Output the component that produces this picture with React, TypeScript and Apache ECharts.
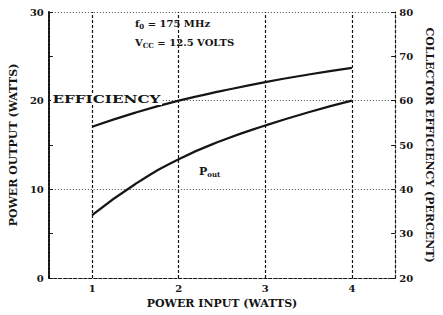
import React, { useEffect, useRef } from "react";
import * as echarts from "echarts";

const inputWatts = [1, 1.5, 2, 2.5, 3, 3.5, 4];
const efficiencyPct = [54.1, 57.3, 60, 62.2, 64.2, 65.9, 67.4];
const outputWatts = [7.1, 10.6, 13.4, 15.5, 17.2, 18.7, 20.0];
const gridX = [1, 2, 3, 4];

const FONT = "DejaVu Serif";
const INK = "#151515";

export default function App() {
  const ref = useRef<HTMLDivElement>(null);
  useEffect(() => {
    document.body.style.margin = "0";
    const chart = echarts.init(ref.current!, null, { renderer: "svg" });
    const txt = { fontFamily: FONT, color: INK, fontSize: 10, fontWeight: "bold" as const };
    const sub = { fontSize: 7, fontFamily: FONT, fontWeight: "bold", verticalAlign: "bottom", padding: [6, 0, 0, 0] };
    chart.setOption({
      animation: false,
      backgroundColor: "#fff",
      grid: { left: 45, right: 36, top: 12, bottom: 37 },
      xAxis: {
        type: "value",
        min: 0.5,
        max: 4.5,
        interval: 0.5,
        name: "POWER INPUT (WATTS)",
        nameLocation: "middle",
        nameGap: 16,
        nameTextStyle: { ...txt, fontSize: 11 },
        axisLine: { show: true, lineStyle: { color: INK, type: [3, 2], width: 1.2 } },
        axisTick: { show: false },
        splitLine: { show: false },
        axisLabel: {
          ...txt,
          margin: 5,
          formatter: (v: number) => (Number.isInteger(v) ? String(v) : ""),
        },
      },
      yAxis: [
        {
          type: "value",
          min: 0,
          max: 30,
          interval: 10,
          name: "POWER OUTPUT (WATTS)",
          nameLocation: "middle",
          nameRotate: 90,
          nameGap: 20,
          nameTextStyle: { ...txt, fontSize: 11 },
          axisLine: { show: true, lineStyle: { color: INK, type: [3, 1], width: 2 } },
          axisTick: { show: true, inside: true, length: 4, lineStyle: { color: INK } },
          minorTick: { show: true, splitNumber: 2, length: 4, lineStyle: { color: INK } },
          splitLine: { show: true, lineStyle: { color: "#444", type: [1, 2], width: 1 } },
          axisLabel: { ...txt, margin: 5 },
        },
        {
          type: "value",
          min: 20,
          max: 80,
          interval: 10,
          position: "right",
          name: "COLLECTOR EFFICIENCY (PERCENT)",
          nameLocation: "middle",
          nameRotate: -90,
          nameGap: 23,
          nameTextStyle: { ...txt, fontSize: 11 },
          axisLine: { show: true, lineStyle: { color: INK, type: [3, 2], width: 1.2 } },
          axisTick: { show: true, inside: true, length: 4, lineStyle: { color: INK } },
          splitLine: { show: false },
          axisLabel: { ...txt, margin: 4 },
        },
      ],
      series: [
        {
          type: "line",
          name: "EFFICIENCY",
          yAxisIndex: 1,
          smooth: true,
          symbol: "none",
          data: inputWatts.map((x, i) => [x, efficiencyPct[i]]),
          lineStyle: { color: INK, width: 2.2 },
          z: 5,
        },
        {
          type: "line",
          name: "POUT",
          yAxisIndex: 0,
          smooth: true,
          symbol: "none",
          data: inputWatts.map((x, i) => [x, outputWatts[i]]),
          lineStyle: { color: INK, width: 2.2 },
          z: 5,
          markLine: {
            silent: true,
            symbol: "none",
            label: { show: false },
            lineStyle: { color: INK, type: [3, 2], width: 1.2 },
            data: gridX.map((x) => ({ xAxis: x })),
          },
        },
      ],
      graphic: [
        {
          type: "text",
          x: 135,
          y: 17,
          style: {
            text: "f{s|0} = 175 MHz",
            font: `bold 10px ${FONT}`,
            fill: INK,
            rich: { s: sub },
          },
          z: 10,
        },
        {
          type: "text",
          x: 135,
          y: 36,
          style: {
            text: "V{s|CC} = 12.5 VOLTS",
            font: `bold 10px ${FONT}`,
            fill: INK,
            rich: { s: sub },
          },
          z: 10,
        },
        {
          type: "text",
          x: 51,
          y: 94,
          scaleX: 1.45,
          style: {
            text: "EFFICIENCY",
            font: `bold 10.5px ${FONT}`,
            fill: INK,
            backgroundColor: "#fff",
            padding: [0, 1, 0, 1],
          },
          z: 10,
        },
        {
          type: "text",
          x: 199,
          y: 165,
          style: {
            text: "P{s|out}",
            font: `bold 11px ${FONT}`,
            fill: INK,
            rich: { s: sub },
          },
          z: 10,
        },
      ],
    });
    return () => chart.dispose();
  }, []);
  return (
    <div
      ref={ref}
      style={{ position: "absolute", left: 0, top: 0, width: 443, height: 315 }}
    />
  );
}
